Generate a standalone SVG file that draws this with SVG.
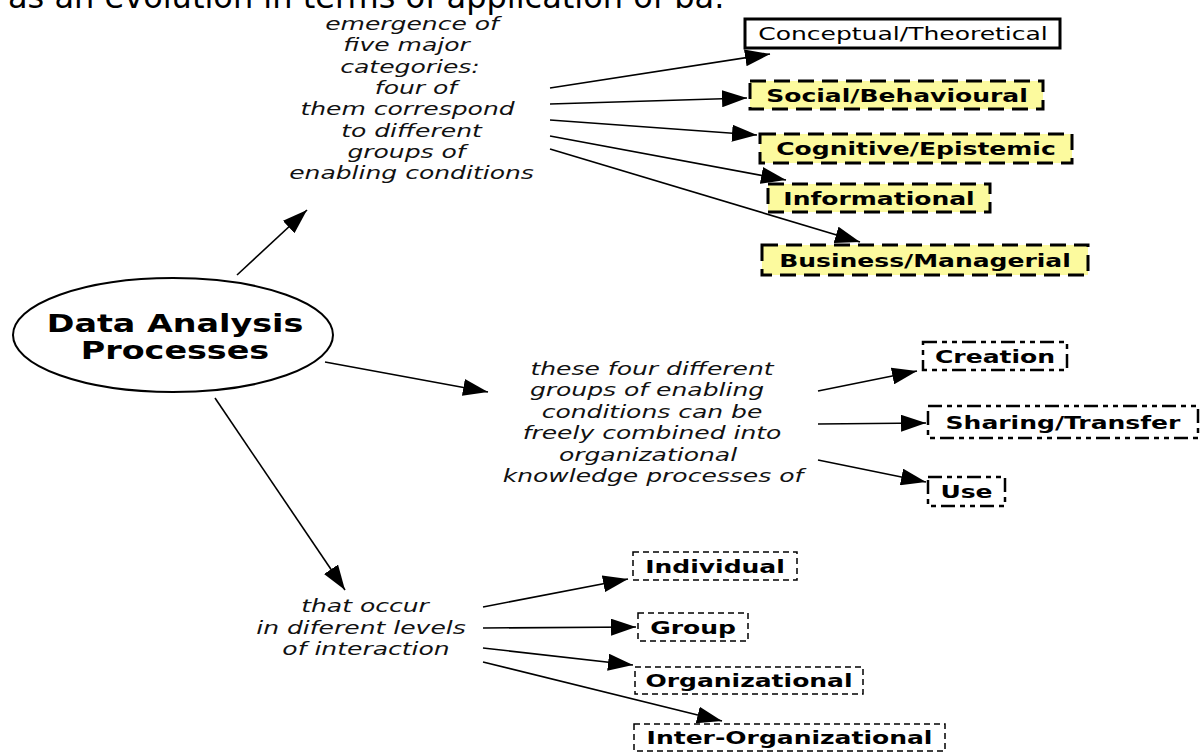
<svg xmlns="http://www.w3.org/2000/svg" width="1200" height="752" viewBox="0 0 1200 752">
<style>
  .it { font-family: "DejaVu Sans", Verdana, sans-serif; font-style: italic; font-size: 18px; fill: #111; text-anchor: middle; }
  .bd { font-family: "DejaVu Sans", Verdana, sans-serif; font-weight: bold; font-size: 18px; fill: #000; text-anchor: middle; }
  .rg { font-family: "DejaVu Sans", Verdana, sans-serif; font-size: 18px; fill: #000; text-anchor: middle; }
  .main { font-family: "DejaVu Sans", Verdana, sans-serif; font-weight: bold; font-size: 24px; fill: #000; text-anchor: middle; }
  .cap { font-family: "DejaVu Sans", Verdana, sans-serif; font-size: 32px; fill: #000; }
  .solid { fill: #fff; stroke: #000; stroke-width: 3; }
  .yel { fill: #fcfa9e; stroke: #000; stroke-width: 3; stroke-dasharray: 16 8; }
  .proc { fill: #fff; stroke: #000; stroke-width: 2.5; stroke-dasharray: 14 5 5 5 5 5; }
  .lvl { fill: #fff; stroke: #000; stroke-width: 1.5; stroke-dasharray: 6 4; }
  .conn line { stroke: #000; stroke-width: 1.6; marker-end: url(#ah); }
</style>
<defs>
  <marker id="ah" markerUnits="userSpaceOnUse" markerWidth="25" markerHeight="17" refX="25" refY="8.5" orient="auto">
    <path d="M0,0 L25,8.5 L0,17 z" fill="#000"/>
  </marker>
</defs>
<rect width="1200" height="752" fill="#fff"/>

<text class="cap" x="8" y="8">as an evolution in terms of application of ba.</text>

<g id="conn" class="conn">
  <line x1="237" y1="275" x2="307" y2="210"/>
  <line x1="325" y1="362" x2="488" y2="392"/>
  <line x1="215" y1="398" x2="345" y2="590"/>
  <line x1="550" y1="88" x2="770" y2="54"/>
  <line x1="550" y1="104" x2="747" y2="98"/>
  <line x1="550" y1="120" x2="757" y2="135"/>
  <line x1="550" y1="136" x2="786" y2="180"/>
  <line x1="550" y1="149" x2="860" y2="242"/>
  <line x1="818" y1="391" x2="917" y2="371"/>
  <line x1="818" y1="424" x2="926" y2="423"/>
  <line x1="818" y1="460" x2="926" y2="482"/>
  <line x1="483" y1="607" x2="628" y2="579"/>
  <line x1="483" y1="628" x2="636" y2="627"/>
  <line x1="483" y1="648" x2="633" y2="665"/>
  <line x1="483" y1="662" x2="722" y2="721"/>
</g>

<g id="node-dap">
  <ellipse cx="173" cy="335" rx="160" ry="57" fill="#fff" stroke="#000" stroke-width="2"/>
  <text class="main" transform="translate(175,332) scale(1.39,1)">Data Analysis</text>
  <text class="main" transform="translate(175,359) scale(1.39,1)">Processes</text>
</g>

<g id="node-emergence">
  <text class="it" transform="translate(412,30) scale(1.39,1)">emergence of</text>
  <text class="it" transform="translate(406.5,51.3) scale(1.39,1)">five major</text>
  <text class="it" transform="translate(410,72.6) scale(1.39,1)">categories:</text>
  <text class="it" transform="translate(416,93.9) scale(1.39,1)">four of</text>
  <text class="it" transform="translate(407.5,115.2) scale(1.39,1)">them correspond</text>
  <text class="it" transform="translate(411.5,136.5) scale(1.39,1)">to different</text>
  <text class="it" transform="translate(406.5,157.8) scale(1.39,1)">groups of</text>
  <text class="it" transform="translate(411.5,179) scale(1.39,1)">enabling conditions</text>
</g>

<g id="node-conceptual">
  <rect class="solid" x="745" y="19" width="315" height="29"/>
  <text class="rg" transform="translate(903,40) scale(1.39,1)">Conceptual/Theoretical</text>
</g>
<g id="node-social">
  <rect class="yel" x="750" y="81" width="293" height="28"/>
  <text class="bd" transform="translate(897,101.5) scale(1.39,1)">Social/Behavioural</text>
</g>
<g id="node-cognitive">
  <rect class="yel" x="760" y="134" width="312" height="29"/>
  <text class="bd" transform="translate(916,155) scale(1.39,1)">Cognitive/Epistemic</text>
</g>
<g id="node-informational">
  <rect class="yel" x="768" y="184" width="222" height="28"/>
  <text class="bd" transform="translate(879,204.5) scale(1.39,1)">Informational</text>
</g>
<g id="node-business">
  <rect class="yel" x="762" y="245" width="326" height="30"/>
  <text class="bd" transform="translate(925,266.5) scale(1.39,1)">Business/Managerial</text>
</g>

<g id="node-combined">
  <text class="it" transform="translate(652,375) scale(1.39,1)">these four different</text>
  <text class="it" transform="translate(647,396.4) scale(1.39,1)">groups of enabling</text>
  <text class="it" transform="translate(652,417.8) scale(1.39,1)">conditions can be</text>
  <text class="it" transform="translate(652,439.2) scale(1.39,1)">freely combined into</text>
  <text class="it" transform="translate(648,460.6) scale(1.39,1)">organizational</text>
  <text class="it" transform="translate(653,482) scale(1.39,1)">knowledge processes of</text>
</g>

<g id="node-creation">
  <rect class="proc" x="923" y="342" width="144" height="28"/>
  <text class="bd" transform="translate(995,362.5) scale(1.39,1)">Creation</text>
</g>
<g id="node-sharing">
  <rect class="proc" x="928" y="406" width="270" height="32"/>
  <text class="bd" transform="translate(1063,428.5) scale(1.39,1)">Sharing/Transfer</text>
</g>
<g id="node-use">
  <rect class="proc" x="928" y="477" width="77" height="29"/>
  <text class="bd" transform="translate(966.5,498) scale(1.39,1)">Use</text>
</g>

<g id="node-levels">
  <text class="it" transform="translate(365,612) scale(1.39,1)">that occur</text>
  <text class="it" transform="translate(361,633.5) scale(1.39,1)">in diferent levels</text>
  <text class="it" transform="translate(366,655) scale(1.39,1)">of interaction</text>
</g>

<g id="node-individual">
  <rect class="lvl" x="633" y="552" width="164" height="28"/>
  <text class="bd" transform="translate(715,572.5) scale(1.39,1)">Individual</text>
</g>
<g id="node-group">
  <rect class="lvl" x="638" y="613" width="110" height="28"/>
  <text class="bd" transform="translate(693,633.5) scale(1.39,1)">Group</text>
</g>
<g id="node-organizational">
  <rect class="lvl" x="635" y="667" width="228" height="27"/>
  <text class="bd" transform="translate(749,687) scale(1.39,1)">Organizational</text>
</g>
<g id="node-interorg">
  <rect class="lvl" x="634" y="724" width="311" height="27"/>
  <text class="bd" transform="translate(789.5,744) scale(1.39,1)">Inter-Organizational</text>
</g>
</svg>
